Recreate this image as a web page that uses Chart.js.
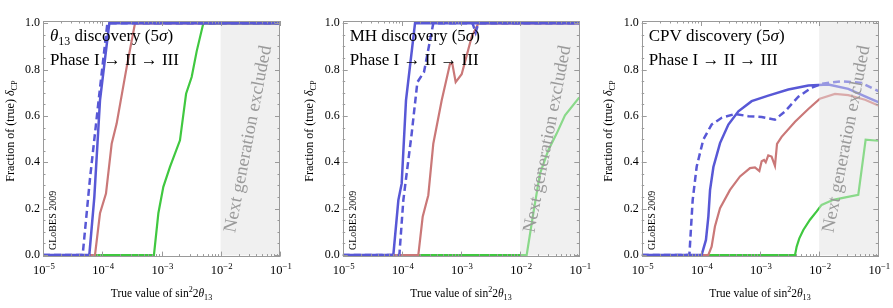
<!DOCTYPE html>
<html>
<head>
<meta charset="utf-8">
<script src="https://cdn.jsdelivr.net/npm/chart.js@4.4.1/dist/chart.umd.min.js"></script>
<style>
html, body { margin: 0; padding: 0; background: #fff; }
#wrap { position: relative; width: 893px; height: 308px; overflow: hidden; }
canvas { position: absolute; top: 0; }
</style>
</head>
<body>
<div id="wrap">
  <canvas id="c1" width="298" height="308" style="left:0px"></canvas>
  <canvas id="c2" width="298" height="308" style="left:300px"></canvas>
  <canvas id="c3" width="298" height="308" style="left:595px"></canvas>
</div>
<script>
// ---- data (x = true sin^2 2theta13, y = fraction of delta_CP) ----
// theta13 discovery
const t13BlueX   = [1e-5, 6.05e-5, 7.35e-5, 9.16e-5, 1.315e-4, 1e-1];
const t13BlueY   = [0, 0, 0.25, 0.667, 1, 1];
const t13DashX   = [1e-5, 4.67e-5, 6.21e-5, 9.16e-5, 1.22e-4, 1e-1];
const t13DashY   = [0, 0, 0.33, 0.72, 1, 1];
const t13RedX    = [1e-5, 7.55e-5, 9.16e-5, 1.156e-4, 1.442e-4, 1.75e-4, 2.58e-4, 3.57e-4, 1e-1];
const t13RedY    = [0, 0, 0.18, 0.265, 0.48, 0.567, 0.81, 1, 1];
const t13GreenX  = [1e-5, 7.46e-4, 8.85e-4, 1.074e-3, 1.39e-3, 2.05e-3, 2.6e-3, 3.23e-3, 3.93e-3, 5.08e-3, 1e-1];
const t13GreenY  = [0, 0, 0.18, 0.294, 0.38, 0.495, 0.696, 0.768, 0.88, 1, 1];

// mass hierarchy discovery
const mhBlueX    = [1e-5, 7.18e-5, 8.73e-5, 9.93e-5, 1.175e-4, 1.67e-4, 1e-1];
const mhBlueY    = [0, 0, 0.237, 0.308, 0.667, 1, 1];
const mhDashX    = [1e-5, 9.08e-5, 1.06e-4, 1.466e-4, 1.83e-4, 2.37e-4, 3.4e-4, 1.57e-3, 1.77e-3, 1.96e-3, 1e-1];
const mhDashY    = [0, 0, 0.237, 0.524, 0.746, 0.79, 1, 1, 0.96, 1, 1];
const mhRedX     = [1e-5, 1.9e-4, 2.25e-4, 2.8e-4, 3.4e-4, 4.71e-4, 6.52e-4, 7.14e-4, 8.13e-4, 1.026e-3, 1.125e-3, 1.51e-3, 1.96e-3, 1e-1];
const mhRedY     = [0, 0, 0.165, 0.258, 0.48, 0.667, 0.825, 0.825, 0.746, 0.78, 0.818, 0.94, 1, 1];
const mhGreenX   = [1e-5, 1.29e-2, 1.67e-2, 2.16e-2, 2.99e-2, 4.14e-2, 5.73e-2, 1e-1];
const mhGreenY   = [0, 0, 0.18, 0.35, 0.452, 0.524, 0.603, 0.68];

// CP violation discovery
const cpvBlueX   = [1e-5, 1.03e-4, 1.22e-4, 1.34e-4, 1.43e-4, 1.63e-4, 2.11e-4, 2.92e-4, 4.31e-4, 7.23e-4, 1.38e-3, 3.01e-3, 6.56e-3, 1.43e-2, 3.11e-2, 5.96e-2, 1e-1];
const cpvBlueY   = [0, 0, 0.065, 0.166, 0.28, 0.38, 0.483, 0.563, 0.62, 0.664, 0.688, 0.714, 0.732, 0.736, 0.717, 0.685, 0.66];
const cpvDashX   = [1e-5, 6.4e-5, 6.73e-5, 7.28e-5, 8.51e-5, 1.1e-4, 1.52e-4, 2.25e-4, 3.78e-4, 6.35e-4, 1.067e-3, 1.79e-3, 2.65e-3, 4.45e-3, 7.46e-3, 1.1e-2, 2.4e-2, 5.22e-2, 1e-1];
const cpvDashY   = [0, 0, 0.094, 0.238, 0.382, 0.498, 0.563, 0.592, 0.609, 0.599, 0.596, 0.584, 0.62, 0.683, 0.722, 0.739, 0.75, 0.743, 0.707];
const cpvRedX    = [1e-5, 1.34e-4, 1.52e-4, 1.73e-4, 2.11e-4, 3.11e-4, 4.59e-4, 6.78e-4, 8.22e-4, 9.75e-4, 1.067e-3, 1.17e-3, 1.25e-3, 1.38e-3, 1.57e-3, 1.79e-3, 1.94e-3, 2.32e-3, 3.91e-3, 6.56e-3, 1.03e-2, 1.85e-2, 3.11e-2, 5.96e-2, 1e-1];
const cpvRedY    = [0, 0, 0.036, 0.123, 0.202, 0.281, 0.339, 0.375, 0.378, 0.362, 0.405, 0.41, 0.40, 0.43, 0.425, 0.385, 0.48, 0.51, 0.575, 0.63, 0.675, 0.695, 0.69, 0.67, 0.645];
const cpvGreenX  = [1e-5, 3.91e-3, 4.17e-3, 4.62e-3, 5.4e-3, 7.0e-3, 9.08e-3, 1.1e-2, 1.73e-2, 2.92e-2, 4.59e-2, 6.11e-2, 1e-1];
const cpvGreenY  = [0, 0, 0.036, 0.072, 0.108, 0.152, 0.188, 0.216, 0.238, 0.25, 0.26, 0.498, 0.493];

const xMajor = [1e-5, 1e-4, 1e-3, 1e-2, 1e-1];
const xMajorExp = ["\u22125", "\u22124", "\u22123", "\u22122", "\u22121"];
const yMajor = [0, 0.2, 0.4, 0.6, 0.8, 1.0];
const yMajorLabels = ["0.0", "0.2", "0.4", "0.6", "0.8", "1.0"];

const BLUE = "#5858d6", RED = "#ca7878", GREEN = "#40c840";
const SERIF = '"Liberation Serif", "DejaVu Serif", serif';

function pts(xs, ys) {
  return xs.map((x, i) => ({ x: x, y: ys[i] }));
}

// draw text made of parts (normal / italic / sub / sup)
function rich(ctx, parts, x, y, size, align) {
  const fontOf = p => (p.i ? "italic " : "") + ((p.sub || p.sup) ? size * 0.7 : size) + "px " + SERIF;
  let w = 0;
  parts.forEach(p => { ctx.font = fontOf(p); w += ctx.measureText(p.t).width; });
  let cx = align === "center" ? x - w / 2 : x;
  ctx.textAlign = "left";
  parts.forEach(p => {
    ctx.font = fontOf(p);
    const dy = p.sub ? size * 0.25 : p.sup ? -size * 0.4 : 0;
    ctx.fillText(p.t, cx, y + dy);
    cx += ctx.measureText(p.t).width;
  });
}

const panelPlugin = {
  id: "panel",
  beforeDatasetsDraw(chart) {
    const { ctx, chartArea, scales: { x, y } } = chart;
    const x0 = x.getPixelForValue(1e-2), x1 = x.getPixelForValue(1e-1);
    ctx.save();
    ctx.fillStyle = "#f0f0f0";
    ctx.fillRect(x0, chartArea.top, x1 - x0, y.getPixelForValue(0) - chartArea.top);
    ctx.restore();
  },
  afterDatasetsDraw(chart) {
    const { ctx, chartArea, scales: { x, y } } = chart;
    const x0 = x.getPixelForValue(1e-2), x1 = x.getPixelForValue(1e-1);
    const yt = y.getPixelForValue(0.99);
    ctx.save();
    ctx.fillStyle = "rgba(240,240,240,0.42)";
    ctx.fillRect(x0, yt, x1 - x0, chartArea.bottom - yt);
    ctx.restore();
  },
  afterDraw(chart, args, opts) {
    const { ctx, chartArea: a, scales: { x, y } } = chart;
    ctx.save();
    // frame and inward ticks
    ctx.strokeStyle = "#9a9a9a";
    ctx.lineWidth = 1;
    ctx.strokeRect(Math.round(a.left) + 0.5, Math.round(a.top) + 0.5,
                   Math.round(a.right - a.left) - 1, Math.round(a.bottom - a.top) - 1);
    ctx.beginPath();
    for (let e = -5; e <= -1; e++) {
      for (let k = 1; k <= 9; k++) {
        const v = k * Math.pow(10, e);
        if (v > 1e-1 * 1.0001) break;
        const px = Math.round(x.getPixelForValue(v)) + 0.5;
        const len = k === 1 ? 5 : 2.5;
        ctx.moveTo(px, a.bottom); ctx.lineTo(px, a.bottom - len);
        ctx.moveTo(px, a.top); ctx.lineTo(px, a.top + len);
      }
    }
    for (let i = 0; i <= 20; i++) {
      const v = i * 0.05;
      const py = Math.round(y.getPixelForValue(v)) + 0.5;
      const len = i % 4 === 0 ? 5 : 2.5;
      ctx.moveTo(a.left, py); ctx.lineTo(a.left + len, py);
      ctx.moveTo(a.right, py); ctx.lineTo(a.right - len, py);
    }
    ctx.stroke();

    // tick labels
    ctx.fillStyle = "#000";
    ctx.textBaseline = "middle";
    ctx.textAlign = "right";
    ctx.font = "12px " + SERIF;
    yMajor.forEach((v, i) => ctx.fillText(yMajorLabels[i], a.left - 3, y.getPixelForValue(v)));
    ctx.textBaseline = "alphabetic";
    xMajor.forEach((v, i) => {
      rich(ctx, [{ t: "10" }, { t: xMajorExp[i], sup: true }], x.getPixelForValue(v) + 1, 274, 12.5, "center");
    });

    // axis titles
    const cxPlot = (a.left + a.right) / 2;
    rich(ctx, [{ t: "True value of sin" }, { t: "2", sup: true }, { t: "2" }, { t: "\u03b8", i: true }, { t: "13", sub: true }],
         cxPlot, 297, 11.5, "center");
    ctx.save();
    ctx.translate(a.left - 29.5, 131);
    ctx.rotate(-Math.PI / 2);
    rich(ctx, [{ t: "Fraction of (true) " }, { t: "\u03b4", i: true }, { t: "CP", sub: true }], 0, 0, 12, "center");
    ctx.restore();

    // panel title
    rich(ctx, opts.title, a.left + 7, 41, 17, "left");
    rich(ctx, [{ t: "Phase I \u2192 II \u2192 III" }], a.left + 7, 65, 17, "left");

    // GLoBES mark
    ctx.save();
    ctx.translate(a.left + 10.5, y.getPixelForValue(0) - 5);
    ctx.rotate(-Math.PI / 2);
    ctx.textAlign = "left";
    ctx.textBaseline = "middle";
    ctx.font = "10px " + SERIF;
    ctx.fillText("GLoBES 2009", 0, 0);
    ctx.restore();

    // excluded region label
    ctx.save();
    ctx.translate(x.getPixelForValue(1e-2) + 27.5, (y.getPixelForValue(0) + y.getPixelForValue(1)) / 2);
    ctx.rotate(-79 * Math.PI / 180);
    ctx.textAlign = "center";
    ctx.textBaseline = "middle";
    ctx.fillStyle = "#9a9a9a";
    ctx.font = "18.5px " + SERIF;
    ctx.fillText("Next generation excluded", 0, 0);
    ctx.restore();

    ctx.restore();
  }
};

function makePanel(id, padL, padR, title, blue, dash, red, green) {
  new Chart(document.getElementById(id), {
    type: "line",
    data: {
      datasets: [
        { data: blue, borderColor: BLUE, borderWidth: 2.5 },
        { data: dash, borderColor: BLUE, borderWidth: 2.5, borderDash: [7, 4] },
        { data: red, borderColor: RED, borderWidth: 2.2 },
        { data: green, borderColor: GREEN, borderWidth: 2.2 }
      ]
    },
    options: {
      responsive: false,
      animation: false,
      devicePixelRatio: 1,
      layout: { padding: { left: padL, right: padR, top: 21, bottom: 51.4 } },
      scales: {
        x: { type: "logarithmic", min: 1e-5, max: 1e-1, display: false },
        y: { type: "linear", min: -0.007, max: 1.01, display: false }
      },
      elements: { point: { radius: 0 }, line: { tension: 0, fill: false } },
      plugins: { legend: { display: false }, tooltip: { enabled: false }, panel: { title: title } }
    },
    plugins: [panelPlugin]
  });
}

makePanel("c1", 43, 18,
  [{ t: "\u03b8", i: true }, { t: "13", sub: true }, { t: " discovery (5" }, { t: "\u03c3", i: true }, { t: ")" }],
  pts(t13BlueX, t13BlueY), pts(t13DashX, t13DashY), pts(t13RedX, t13RedY), pts(t13GreenX, t13GreenY));
makePanel("c2", 42.7, 18.7,
  [{ t: "MH discovery (5" }, { t: "\u03c3", i: true }, { t: ")" }],
  pts(mhBlueX, mhBlueY), pts(mhDashX, mhDashY), pts(mhRedX, mhRedY), pts(mhGreenX, mhGreenY));
makePanel("c3", 46.7, 14.7,
  [{ t: "CPV discovery (5" }, { t: "\u03c3", i: true }, { t: ")" }],
  pts(cpvBlueX, cpvBlueY), pts(cpvDashX, cpvDashY), pts(cpvRedX, cpvRedY), pts(cpvGreenX, cpvGreenY));
</script>
</body>
</html>
